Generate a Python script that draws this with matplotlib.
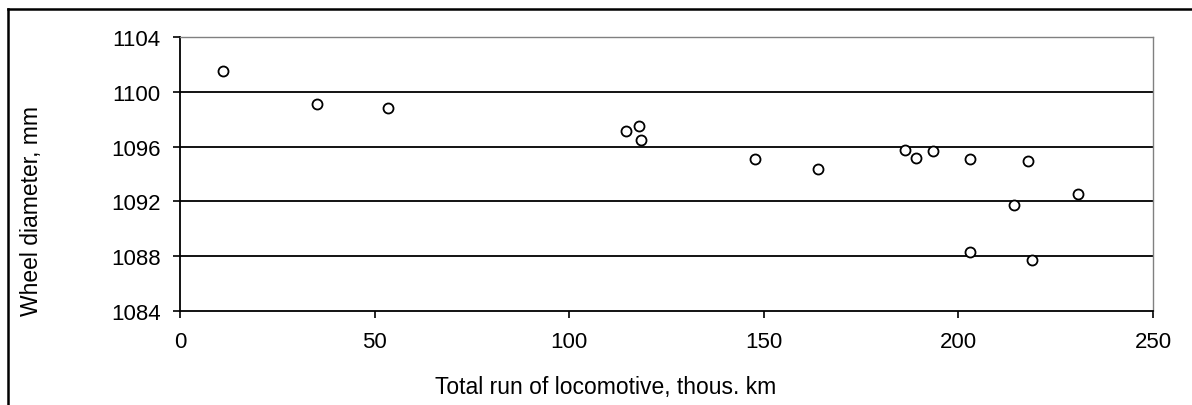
import matplotlib.pyplot as plt
from matplotlib.lines import Line2D

# total run of locomotive, thous. km
run_km = [11.1, 35.3, 53.4, 114.5, 118.0, 118.4, 147.8, 163.9, 186.3, 189.0,
          193.5, 202.9, 217.9, 230.7, 214.3, 202.9, 218.9]
# wheel diameter, mm
diameter = [1101.5, 1099.1, 1098.8, 1097.15, 1097.5, 1096.5, 1095.1, 1094.4,
            1095.75, 1095.2, 1095.65, 1095.07, 1094.95, 1092.57, 1091.77,
            1088.34, 1087.74]

x_ticks = [0, 50, 100, 150, 200, 250]
y_ticks = [1084, 1088, 1092, 1096, 1100, 1104]

plt.rcParams["font.family"] = ["Liberation Sans", "DejaVu Sans"]

W, H = 1192, 406
fig = plt.figure(figsize=(W / 100, H / 100), dpi=100)
ax = fig.add_axes([180 / W, 1 - 312.3 / H, (1153 - 180) / W, (312.3 - 37.7) / H])

for y in y_ticks[1:]:
    ax.axhline(y, color="black" if y < 1104 else "#808080", linewidth=1.3, zorder=1)

ax.scatter(run_km, diameter, s=52, facecolors="white", edgecolors="black",
           linewidths=1.3, zorder=3)

ax.set_xlim(0, 250)
ax.set_ylim(1084, 1104)
ax.set_xticks(x_ticks)
ax.set_yticks(y_ticks)
ax.tick_params(axis="both", direction="out", length=5, width=1.2, labelsize=16)
ax.tick_params(axis="x", pad=9)
ax.tick_params(axis="y", pad=9)

for side in ["left", "bottom"]:
    ax.spines[side].set_color("black")
    ax.spines[side].set_linewidth(1.3)
ax.spines["right"].set_color("#808080")
ax.spines["top"].set_color("#808080")
ax.spines["right"].set_linewidth(1.0)
ax.spines["top"].set_linewidth(1.0)

fig.text(606 / W, 1 - 388 / H, "Total run of locomotive, thous. km",
         ha="center", va="center", fontsize=16.5)
fig.text(32 / W, 1 - 211 / H, "Wheel diameter, mm", rotation=90,
         ha="center", va="center", fontsize=16.5)

# outer chart frame (cut off at right and bottom)
fig.add_artist(Line2D([8 / W, 8 / W], [1 - 10 / H, -0.05], color="black",
                      linewidth=1.8, transform=fig.transFigure))
fig.add_artist(Line2D([8 / W, 1.05], [1 - 10 / H, 1 - 10 / H], color="black",
                      linewidth=1.8, transform=fig.transFigure))

fig.savefig("out.png", dpi=100)
